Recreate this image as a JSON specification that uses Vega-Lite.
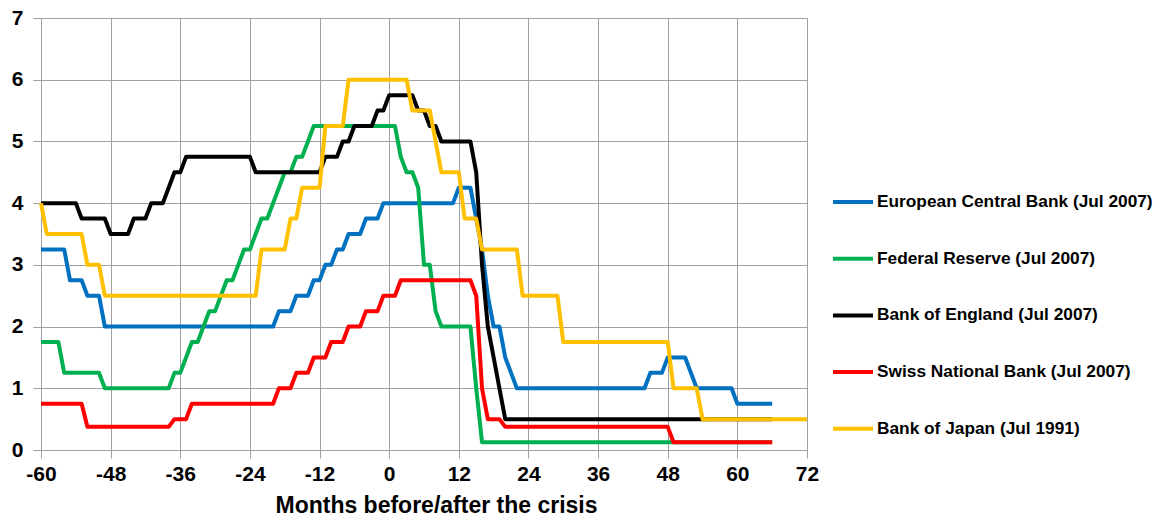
{
  "$schema": "https://vega.github.io/schema/vega-lite/v6.json",
  "width": 766,
  "height": 432,
  "autosize": "none",
  "padding": {"left": 41, "top": 18, "right": 348, "bottom": 72},
  "background": "white",
  "datasets": {
    "rates": [
      {"bank": "European Central Bank (Jul 2007)", "month": -60, "rate": 3.25},
      {"bank": "European Central Bank (Jul 2007)", "month": -56, "rate": 3.25},
      {"bank": "European Central Bank (Jul 2007)", "month": -55, "rate": 2.75},
      {"bank": "European Central Bank (Jul 2007)", "month": -53, "rate": 2.75},
      {"bank": "European Central Bank (Jul 2007)", "month": -52, "rate": 2.5},
      {"bank": "European Central Bank (Jul 2007)", "month": -50, "rate": 2.5},
      {"bank": "European Central Bank (Jul 2007)", "month": -49, "rate": 2.0},
      {"bank": "European Central Bank (Jul 2007)", "month": -20, "rate": 2.0},
      {"bank": "European Central Bank (Jul 2007)", "month": -19, "rate": 2.25},
      {"bank": "European Central Bank (Jul 2007)", "month": -17, "rate": 2.25},
      {"bank": "European Central Bank (Jul 2007)", "month": -16, "rate": 2.5},
      {"bank": "European Central Bank (Jul 2007)", "month": -14, "rate": 2.5},
      {"bank": "European Central Bank (Jul 2007)", "month": -13, "rate": 2.75},
      {"bank": "European Central Bank (Jul 2007)", "month": -12, "rate": 2.75},
      {"bank": "European Central Bank (Jul 2007)", "month": -11, "rate": 3.0},
      {"bank": "European Central Bank (Jul 2007)", "month": -10, "rate": 3.0},
      {"bank": "European Central Bank (Jul 2007)", "month": -9, "rate": 3.25},
      {"bank": "European Central Bank (Jul 2007)", "month": -8, "rate": 3.25},
      {"bank": "European Central Bank (Jul 2007)", "month": -7, "rate": 3.5},
      {"bank": "European Central Bank (Jul 2007)", "month": -5, "rate": 3.5},
      {"bank": "European Central Bank (Jul 2007)", "month": -4, "rate": 3.75},
      {"bank": "European Central Bank (Jul 2007)", "month": -2, "rate": 3.75},
      {"bank": "European Central Bank (Jul 2007)", "month": -1, "rate": 4.0},
      {"bank": "European Central Bank (Jul 2007)", "month": 11, "rate": 4.0},
      {"bank": "European Central Bank (Jul 2007)", "month": 12, "rate": 4.25},
      {"bank": "European Central Bank (Jul 2007)", "month": 14, "rate": 4.25},
      {"bank": "European Central Bank (Jul 2007)", "month": 15, "rate": 3.75},
      {"bank": "European Central Bank (Jul 2007)", "month": 16, "rate": 3.25},
      {"bank": "European Central Bank (Jul 2007)", "month": 17, "rate": 2.5},
      {"bank": "European Central Bank (Jul 2007)", "month": 18, "rate": 2.0},
      {"bank": "European Central Bank (Jul 2007)", "month": 19, "rate": 2.0},
      {"bank": "European Central Bank (Jul 2007)", "month": 20, "rate": 1.5},
      {"bank": "European Central Bank (Jul 2007)", "month": 21, "rate": 1.25},
      {"bank": "European Central Bank (Jul 2007)", "month": 22, "rate": 1.0},
      {"bank": "European Central Bank (Jul 2007)", "month": 44, "rate": 1.0},
      {"bank": "European Central Bank (Jul 2007)", "month": 45, "rate": 1.25},
      {"bank": "European Central Bank (Jul 2007)", "month": 47, "rate": 1.25},
      {"bank": "European Central Bank (Jul 2007)", "month": 48, "rate": 1.5},
      {"bank": "European Central Bank (Jul 2007)", "month": 51, "rate": 1.5},
      {"bank": "European Central Bank (Jul 2007)", "month": 52, "rate": 1.25},
      {"bank": "European Central Bank (Jul 2007)", "month": 53, "rate": 1.0},
      {"bank": "European Central Bank (Jul 2007)", "month": 59, "rate": 1.0},
      {"bank": "European Central Bank (Jul 2007)", "month": 60, "rate": 0.75},
      {"bank": "European Central Bank (Jul 2007)", "month": 66, "rate": 0.75},

      {"bank": "Federal Reserve (Jul 2007)", "month": -60, "rate": 1.75},
      {"bank": "Federal Reserve (Jul 2007)", "month": -57, "rate": 1.75},
      {"bank": "Federal Reserve (Jul 2007)", "month": -56, "rate": 1.25},
      {"bank": "Federal Reserve (Jul 2007)", "month": -50, "rate": 1.25},
      {"bank": "Federal Reserve (Jul 2007)", "month": -49, "rate": 1.0},
      {"bank": "Federal Reserve (Jul 2007)", "month": -38, "rate": 1.0},
      {"bank": "Federal Reserve (Jul 2007)", "month": -37, "rate": 1.25},
      {"bank": "Federal Reserve (Jul 2007)", "month": -36, "rate": 1.25},
      {"bank": "Federal Reserve (Jul 2007)", "month": -35, "rate": 1.5},
      {"bank": "Federal Reserve (Jul 2007)", "month": -34, "rate": 1.75},
      {"bank": "Federal Reserve (Jul 2007)", "month": -33, "rate": 1.75},
      {"bank": "Federal Reserve (Jul 2007)", "month": -32, "rate": 2.0},
      {"bank": "Federal Reserve (Jul 2007)", "month": -31, "rate": 2.25},
      {"bank": "Federal Reserve (Jul 2007)", "month": -30, "rate": 2.25},
      {"bank": "Federal Reserve (Jul 2007)", "month": -29, "rate": 2.5},
      {"bank": "Federal Reserve (Jul 2007)", "month": -28, "rate": 2.75},
      {"bank": "Federal Reserve (Jul 2007)", "month": -27, "rate": 2.75},
      {"bank": "Federal Reserve (Jul 2007)", "month": -26, "rate": 3.0},
      {"bank": "Federal Reserve (Jul 2007)", "month": -25, "rate": 3.25},
      {"bank": "Federal Reserve (Jul 2007)", "month": -24, "rate": 3.25},
      {"bank": "Federal Reserve (Jul 2007)", "month": -23, "rate": 3.5},
      {"bank": "Federal Reserve (Jul 2007)", "month": -22, "rate": 3.75},
      {"bank": "Federal Reserve (Jul 2007)", "month": -21, "rate": 3.75},
      {"bank": "Federal Reserve (Jul 2007)", "month": -20, "rate": 4.0},
      {"bank": "Federal Reserve (Jul 2007)", "month": -19, "rate": 4.25},
      {"bank": "Federal Reserve (Jul 2007)", "month": -18, "rate": 4.5},
      {"bank": "Federal Reserve (Jul 2007)", "month": -17, "rate": 4.5},
      {"bank": "Federal Reserve (Jul 2007)", "month": -16, "rate": 4.75},
      {"bank": "Federal Reserve (Jul 2007)", "month": -15, "rate": 4.75},
      {"bank": "Federal Reserve (Jul 2007)", "month": -14, "rate": 5.0},
      {"bank": "Federal Reserve (Jul 2007)", "month": -13, "rate": 5.25},
      {"bank": "Federal Reserve (Jul 2007)", "month": 1, "rate": 5.25},
      {"bank": "Federal Reserve (Jul 2007)", "month": 2, "rate": 4.75},
      {"bank": "Federal Reserve (Jul 2007)", "month": 3, "rate": 4.5},
      {"bank": "Federal Reserve (Jul 2007)", "month": 4, "rate": 4.5},
      {"bank": "Federal Reserve (Jul 2007)", "month": 5, "rate": 4.25},
      {"bank": "Federal Reserve (Jul 2007)", "month": 6, "rate": 3.0},
      {"bank": "Federal Reserve (Jul 2007)", "month": 7, "rate": 3.0},
      {"bank": "Federal Reserve (Jul 2007)", "month": 8, "rate": 2.25},
      {"bank": "Federal Reserve (Jul 2007)", "month": 9, "rate": 2.0},
      {"bank": "Federal Reserve (Jul 2007)", "month": 14, "rate": 2.0},
      {"bank": "Federal Reserve (Jul 2007)", "month": 15, "rate": 1.0},
      {"bank": "Federal Reserve (Jul 2007)", "month": 16, "rate": 0.125},
      {"bank": "Federal Reserve (Jul 2007)", "month": 66, "rate": 0.125},

      {"bank": "Bank of England (Jul 2007)", "month": -60, "rate": 4.0},
      {"bank": "Bank of England (Jul 2007)", "month": -54, "rate": 4.0},
      {"bank": "Bank of England (Jul 2007)", "month": -53, "rate": 3.75},
      {"bank": "Bank of England (Jul 2007)", "month": -49, "rate": 3.75},
      {"bank": "Bank of England (Jul 2007)", "month": -48, "rate": 3.5},
      {"bank": "Bank of England (Jul 2007)", "month": -45, "rate": 3.5},
      {"bank": "Bank of England (Jul 2007)", "month": -44, "rate": 3.75},
      {"bank": "Bank of England (Jul 2007)", "month": -42, "rate": 3.75},
      {"bank": "Bank of England (Jul 2007)", "month": -41, "rate": 4.0},
      {"bank": "Bank of England (Jul 2007)", "month": -39, "rate": 4.0},
      {"bank": "Bank of England (Jul 2007)", "month": -38, "rate": 4.25},
      {"bank": "Bank of England (Jul 2007)", "month": -37, "rate": 4.5},
      {"bank": "Bank of England (Jul 2007)", "month": -36, "rate": 4.5},
      {"bank": "Bank of England (Jul 2007)", "month": -35, "rate": 4.75},
      {"bank": "Bank of England (Jul 2007)", "month": -24, "rate": 4.75},
      {"bank": "Bank of England (Jul 2007)", "month": -23, "rate": 4.5},
      {"bank": "Bank of England (Jul 2007)", "month": -12, "rate": 4.5},
      {"bank": "Bank of England (Jul 2007)", "month": -11, "rate": 4.75},
      {"bank": "Bank of England (Jul 2007)", "month": -9, "rate": 4.75},
      {"bank": "Bank of England (Jul 2007)", "month": -8, "rate": 5.0},
      {"bank": "Bank of England (Jul 2007)", "month": -7, "rate": 5.0},
      {"bank": "Bank of England (Jul 2007)", "month": -6, "rate": 5.25},
      {"bank": "Bank of England (Jul 2007)", "month": -3, "rate": 5.25},
      {"bank": "Bank of England (Jul 2007)", "month": -2, "rate": 5.5},
      {"bank": "Bank of England (Jul 2007)", "month": -1, "rate": 5.5},
      {"bank": "Bank of England (Jul 2007)", "month": 0, "rate": 5.75},
      {"bank": "Bank of England (Jul 2007)", "month": 4, "rate": 5.75},
      {"bank": "Bank of England (Jul 2007)", "month": 5, "rate": 5.5},
      {"bank": "Bank of England (Jul 2007)", "month": 6, "rate": 5.5},
      {"bank": "Bank of England (Jul 2007)", "month": 7, "rate": 5.25},
      {"bank": "Bank of England (Jul 2007)", "month": 8, "rate": 5.25},
      {"bank": "Bank of England (Jul 2007)", "month": 9, "rate": 5.0},
      {"bank": "Bank of England (Jul 2007)", "month": 14, "rate": 5.0},
      {"bank": "Bank of England (Jul 2007)", "month": 15, "rate": 4.5},
      {"bank": "Bank of England (Jul 2007)", "month": 16, "rate": 3.0},
      {"bank": "Bank of England (Jul 2007)", "month": 17, "rate": 2.0},
      {"bank": "Bank of England (Jul 2007)", "month": 18, "rate": 1.5},
      {"bank": "Bank of England (Jul 2007)", "month": 19, "rate": 1.0},
      {"bank": "Bank of England (Jul 2007)", "month": 20, "rate": 0.5},
      {"bank": "Bank of England (Jul 2007)", "month": 66, "rate": 0.5},

      {"bank": "Swiss National Bank (Jul 2007)", "month": -60, "rate": 0.75},
      {"bank": "Swiss National Bank (Jul 2007)", "month": -53, "rate": 0.75},
      {"bank": "Swiss National Bank (Jul 2007)", "month": -52, "rate": 0.375},
      {"bank": "Swiss National Bank (Jul 2007)", "month": -38, "rate": 0.375},
      {"bank": "Swiss National Bank (Jul 2007)", "month": -37, "rate": 0.5},
      {"bank": "Swiss National Bank (Jul 2007)", "month": -35, "rate": 0.5},
      {"bank": "Swiss National Bank (Jul 2007)", "month": -34, "rate": 0.75},
      {"bank": "Swiss National Bank (Jul 2007)", "month": -20, "rate": 0.75},
      {"bank": "Swiss National Bank (Jul 2007)", "month": -19, "rate": 1.0},
      {"bank": "Swiss National Bank (Jul 2007)", "month": -17, "rate": 1.0},
      {"bank": "Swiss National Bank (Jul 2007)", "month": -16, "rate": 1.25},
      {"bank": "Swiss National Bank (Jul 2007)", "month": -14, "rate": 1.25},
      {"bank": "Swiss National Bank (Jul 2007)", "month": -13, "rate": 1.5},
      {"bank": "Swiss National Bank (Jul 2007)", "month": -11, "rate": 1.5},
      {"bank": "Swiss National Bank (Jul 2007)", "month": -10, "rate": 1.75},
      {"bank": "Swiss National Bank (Jul 2007)", "month": -8, "rate": 1.75},
      {"bank": "Swiss National Bank (Jul 2007)", "month": -7, "rate": 2.0},
      {"bank": "Swiss National Bank (Jul 2007)", "month": -5, "rate": 2.0},
      {"bank": "Swiss National Bank (Jul 2007)", "month": -4, "rate": 2.25},
      {"bank": "Swiss National Bank (Jul 2007)", "month": -2, "rate": 2.25},
      {"bank": "Swiss National Bank (Jul 2007)", "month": -1, "rate": 2.5},
      {"bank": "Swiss National Bank (Jul 2007)", "month": 1, "rate": 2.5},
      {"bank": "Swiss National Bank (Jul 2007)", "month": 2, "rate": 2.75},
      {"bank": "Swiss National Bank (Jul 2007)", "month": 14, "rate": 2.75},
      {"bank": "Swiss National Bank (Jul 2007)", "month": 15, "rate": 2.5},
      {"bank": "Swiss National Bank (Jul 2007)", "month": 16, "rate": 1.0},
      {"bank": "Swiss National Bank (Jul 2007)", "month": 17, "rate": 0.5},
      {"bank": "Swiss National Bank (Jul 2007)", "month": 19, "rate": 0.5},
      {"bank": "Swiss National Bank (Jul 2007)", "month": 20, "rate": 0.375},
      {"bank": "Swiss National Bank (Jul 2007)", "month": 48, "rate": 0.375},
      {"bank": "Swiss National Bank (Jul 2007)", "month": 49, "rate": 0.125},
      {"bank": "Swiss National Bank (Jul 2007)", "month": 66, "rate": 0.125},

      {"bank": "Bank of Japan (Jul 1991)", "month": -60, "rate": 4.0},
      {"bank": "Bank of Japan (Jul 1991)", "month": -59, "rate": 3.5},
      {"bank": "Bank of Japan (Jul 1991)", "month": -53, "rate": 3.5},
      {"bank": "Bank of Japan (Jul 1991)", "month": -52, "rate": 3.0},
      {"bank": "Bank of Japan (Jul 1991)", "month": -50, "rate": 3.0},
      {"bank": "Bank of Japan (Jul 1991)", "month": -49, "rate": 2.5},
      {"bank": "Bank of Japan (Jul 1991)", "month": -23, "rate": 2.5},
      {"bank": "Bank of Japan (Jul 1991)", "month": -22, "rate": 3.25},
      {"bank": "Bank of Japan (Jul 1991)", "month": -18, "rate": 3.25},
      {"bank": "Bank of Japan (Jul 1991)", "month": -17, "rate": 3.75},
      {"bank": "Bank of Japan (Jul 1991)", "month": -16, "rate": 3.75},
      {"bank": "Bank of Japan (Jul 1991)", "month": -15, "rate": 4.25},
      {"bank": "Bank of Japan (Jul 1991)", "month": -12, "rate": 4.25},
      {"bank": "Bank of Japan (Jul 1991)", "month": -11, "rate": 5.25},
      {"bank": "Bank of Japan (Jul 1991)", "month": -8, "rate": 5.25},
      {"bank": "Bank of Japan (Jul 1991)", "month": -7, "rate": 6.0},
      {"bank": "Bank of Japan (Jul 1991)", "month": 3, "rate": 6.0},
      {"bank": "Bank of Japan (Jul 1991)", "month": 4, "rate": 5.5},
      {"bank": "Bank of Japan (Jul 1991)", "month": 7, "rate": 5.5},
      {"bank": "Bank of Japan (Jul 1991)", "month": 8, "rate": 5.0},
      {"bank": "Bank of Japan (Jul 1991)", "month": 9, "rate": 4.5},
      {"bank": "Bank of Japan (Jul 1991)", "month": 12, "rate": 4.5},
      {"bank": "Bank of Japan (Jul 1991)", "month": 13, "rate": 3.75},
      {"bank": "Bank of Japan (Jul 1991)", "month": 15, "rate": 3.75},
      {"bank": "Bank of Japan (Jul 1991)", "month": 16, "rate": 3.25},
      {"bank": "Bank of Japan (Jul 1991)", "month": 22, "rate": 3.25},
      {"bank": "Bank of Japan (Jul 1991)", "month": 23, "rate": 2.5},
      {"bank": "Bank of Japan (Jul 1991)", "month": 29, "rate": 2.5},
      {"bank": "Bank of Japan (Jul 1991)", "month": 30, "rate": 1.75},
      {"bank": "Bank of Japan (Jul 1991)", "month": 48, "rate": 1.75},
      {"bank": "Bank of Japan (Jul 1991)", "month": 49, "rate": 1.0},
      {"bank": "Bank of Japan (Jul 1991)", "month": 53, "rate": 1.0},
      {"bank": "Bank of Japan (Jul 1991)", "month": 54, "rate": 0.5},
      {"bank": "Bank of Japan (Jul 1991)", "month": 72, "rate": 0.5}
    ]
  },
  "data": {"name": "rates"},
  "mark": {"type": "line", "strokeWidth": 4, "strokeJoin": "round", "clip": false},
  "encoding": {
    "x": {
      "field": "month",
      "type": "quantitative",
      "scale": {"domain": [-60, 72], "nice": false, "zero": false},
      "axis": {
        "values": [-60, -48, -36, -24, -12, 0, 12, 24, 36, 48, 60, 72],
        "labelExpr": "toString(datum.value)",
        "title": "Months before/after the crisis",
        "titleX": 395,
        "titlePadding": 10,
        "titleFontSize": 23
      }
    },
    "y": {
      "field": "rate",
      "type": "quantitative",
      "scale": {"domain": [0, 7], "nice": false},
      "axis": {"values": [0, 1, 2, 3, 4, 5, 6, 7], "title": null}
    },
    "color": {
      "field": "bank",
      "type": "nominal",
      "scale": {
        "domain": [
          "European Central Bank (Jul 2007)",
          "Federal Reserve (Jul 2007)",
          "Bank of England (Jul 2007)",
          "Swiss National Bank (Jul 2007)",
          "Bank of Japan (Jul 1991)"
        ],
        "range": ["#0070C0", "#00B050", "#000000", "#FF0000", "#FFC000"]
      },
      "legend": {
        "title": null,
        "orient": "none",
        "legendX": 790,
        "legendY": 162,
        "symbolType": "stroke",
        "symbolStrokeWidth": 4,
        "symbolSize": 1600,
        "rowPadding": 25.7,
        "labelOffset": 2,
        "padding": 0,
        "labelLimit": 400,
        "labelFont": "Liberation Sans",
        "labelFontSize": 17.3,
        "labelFontWeight": "bold",
        "labelColor": "#000000"
      }
    }
  },
  "config": {
    "view": {"stroke": null},
    "axis": {
      "gridColor": "#A0A0A0",
      "gridWidth": 1,
      "gridOpacity": 1,
      "domainColor": "#A0A0A0",
      "domainWidth": 1,
      "tickColor": "#A0A0A0",
      "tickSize": 8,
      "labelFont": "Liberation Sans",
      "labelFontSize": 21,
      "labelFontWeight": "bold",
      "labelColor": "#000000",
      "titleFont": "Liberation Sans",
      "titleFontSize": 21,
      "titleFontWeight": "bold",
      "titleColor": "#000000"
    },
    "axisX": {"labelPadding": 5, "labelFlush": false},
    "axisY": {"labelPadding": 10}
  }
}
